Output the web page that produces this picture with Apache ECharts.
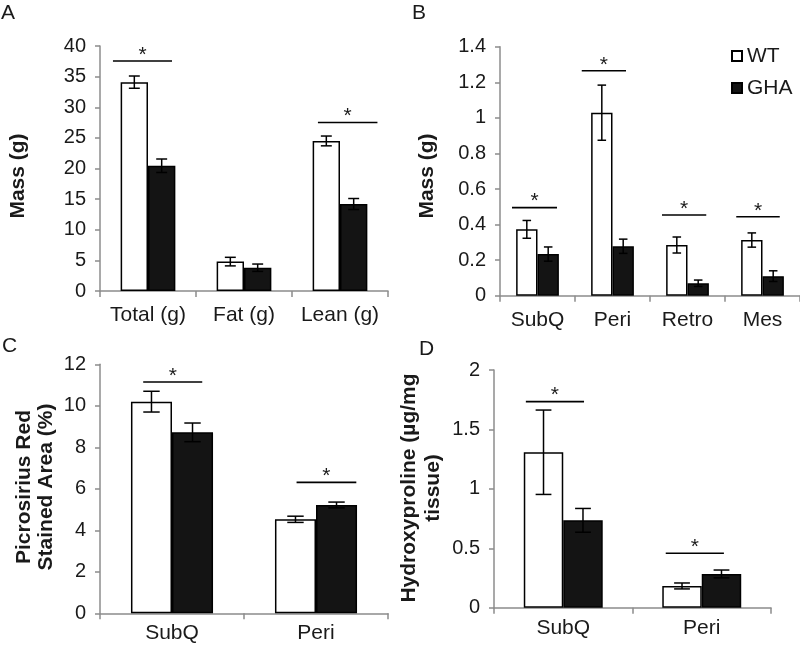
<!DOCTYPE html>
<html>
<head>
<meta charset="utf-8">
<script src="https://cdn.jsdelivr.net/npm/echarts@6/dist/echarts.min.js"></script>
<style>html,body{margin:0;padding:0;background:#fff;}#c{width:800px;height:645px;}</style>
</head>
<body>
<div id="c"></div>
<script>
// ---- Data ----
const catsA = ['Total (g)', 'Fat (g)', 'Lean (g)'];
const wtA = [34.1, 4.8, 24.5];
const wtErrA = [1.0, 0.7, 0.8];
const ghaA = [20.45, 3.8, 14.2];
const ghaErrA = [1.1, 0.6, 0.9];
const sigA = [[0, 37.55], [2, 27.5]];

const catsB = ['SubQ', 'Peri', 'Retro', 'Mes'];
const wtB = [0.373, 1.029, 0.285, 0.313];
const wtErrB = [0.05, 0.155, 0.045, 0.04];
const ghaB = [0.234, 0.278, 0.07, 0.11];
const ghaErrB = [0.04, 0.04, 0.018, 0.03];
const sigB = [[0, 0.495], [1, 1.265], [2, 0.454], [3, 0.444]];

const catsC = ['SubQ', 'Peri'];
const wtC = [10.2, 4.53];
const wtErrC = [0.5, 0.15];
const ghaC = [8.72, 5.22];
const ghaErrC = [0.45, 0.14];
const sigC = [[0, 11.15], [1, 6.31]];

const catsD = ['SubQ', 'Peri'];
const wtD = [1.308, 0.183];
const wtErrD = [0.355, 0.025];
const ghaD = [0.735, 0.284];
const ghaErrD = [0.1, 0.033];
const sigD = [[0, 1.734], [1, 0.458]];

const yTicksA = {min: 0, max: 40, interval: 5};
const yTicksB = {min: 0, max: 1.4, interval: 0.2};
const yTicksC = {min: 0, max: 12, interval: 2};
const yTicksD = {min: 0, max: 2, interval: 0.5};

// ---- Layout / style ----
const FONT = 'Arial, "Liberation Sans", Helvetica, sans-serif';
const AXIS_COLOR = '#8c8c8c';
const TEXT_COLOR = '#1a1a1a';
const BAR_FRAC = 0.285;

const sigOffA = [[-0.365, 0.25], [-0.23, 0.39]];
const sigOffB = [[-0.34, 0.26], [-0.41, 0.18], [-0.34, 0.25], [-0.35, 0.23]];
const sigOffC = [[-0.2, 0.21], [-0.135, 0.28]];
const sigOffD = [[-0.27, 0.15], [-0.26, 0.16]];
const xLabelMargins = [14, 14, 9, 10];

const grids = [
  {left: 100, right: 412, top: 46, bottom: 354, outerBoundsMode: 'none'},
  {left: 500, right: 0, top: 46.7, bottom: 349.3, outerBoundsMode: 'none'},
  {left: 100, right: 412, top: 364.3, bottom: 31.7, outerBoundsMode: 'none'},
  {left: 494, right: 29, top: 370, bottom: 37.3, outerBoundsMode: 'none'}
];

const panels = [
  {cats: catsA, wt: wtA, wtErr: wtErrA, gha: ghaA, ghaErr: ghaErrA, sig: sigA, sigOff: sigOffA, y: yTicksA},
  {cats: catsB, wt: wtB, wtErr: wtErrB, gha: ghaB, ghaErr: ghaErrB, sig: sigB, sigOff: sigOffB, y: yTicksB},
  {cats: catsC, wt: wtC, wtErr: wtErrC, gha: ghaC, ghaErr: ghaErrC, sig: sigC, sigOff: sigOffC, y: yTicksC},
  {cats: catsD, wt: wtD, wtErr: wtErrD, gha: ghaD, ghaErr: ghaErrD, sig: sigD, sigOff: sigOffD, y: yTicksD}
];

const xAxes = [], yAxes = [], series = [];

function errRenderer(side) {
  return function (params, api) {
    const cat = api.value(0), v = api.value(1), e = api.value(2);
    const band = api.size([1, 0])[0];
    const bw = band * BAR_FRAC;
    const x = api.coord([cat, v])[0] + side * bw / 2;
    const yT = api.coord([cat, v + e])[1];
    const yB = api.coord([cat, v - e])[1];
    const cap = bw * 0.2;
    const st = {stroke: '#000', lineWidth: 1.5};
    return {type: 'group', children: [
      {type: 'line', shape: {x1: x, y1: yT, x2: x, y2: yB}, style: st},
      {type: 'line', shape: {x1: x - cap, y1: yT, x2: x + cap, y2: yT}, style: st},
      {type: 'line', shape: {x1: x - cap, y1: yB, x2: x + cap, y2: yB}, style: st}
    ]};
  };
}

function sigRenderer(offs) {
  return function (params, api) {
    const cat = api.value(0), y = api.value(1);
    const band = api.size([1, 0])[0];
    const p = api.coord([cat, y]);
    const o = offs[params.dataIndex];
    const x1 = p[0] + o[0] * band, x2 = p[0] + o[1] * band;
    return {type: 'group', children: [
      {type: 'line', shape: {x1: x1, y1: p[1], x2: x2, y2: p[1]}, style: {stroke: '#000', lineWidth: 1.6}},
      {type: 'text', x: (x1 + x2) / 2, y: p[1] - 6, style: {text: '*', fill: TEXT_COLOR, font: '21px ' + FONT, align: 'center', verticalAlign: 'middle'}}
    ]};
  };
}

panels.forEach(function (pn, i) {
  xAxes.push({
    type: 'category', gridIndex: i, data: pn.cats,
    axisLine: {lineStyle: {color: AXIS_COLOR, width: 1.5}},
    axisTick: {show: true, length: 6, lineStyle: {color: AXIS_COLOR, width: 1.5}},
    axisLabel: {interval: 0, color: TEXT_COLOR, fontSize: 21, fontFamily: FONT, margin: xLabelMargins[i]},
    splitLine: {show: false}
  });
  yAxes.push({
    type: 'value', gridIndex: i, min: pn.y.min, max: pn.y.max, interval: pn.y.interval,
    axisLine: {show: true, lineStyle: {color: AXIS_COLOR, width: 1.5}},
    axisTick: {show: true, length: 5, lineStyle: {color: AXIS_COLOR, width: 1.5}},
    axisLabel: {color: TEXT_COLOR, fontSize: 20, fontFamily: FONT, margin: 14},
    splitLine: {show: false}
  });
  series.push({
    name: 'WT', type: 'bar', xAxisIndex: i, yAxisIndex: i, data: pn.wt,
    barWidth: (BAR_FRAC * 100) + '%', barGap: '0%',
    itemStyle: {color: '#ffffff', borderColor: '#000', borderWidth: 1.5}
  });
  series.push({
    name: 'GHA', type: 'bar', xAxisIndex: i, yAxisIndex: i, data: pn.gha,
    barWidth: (BAR_FRAC * 100) + '%', barGap: '0%',
    itemStyle: {color: '#141414', borderColor: '#000', borderWidth: 1.5}
  });
  series.push({
    type: 'custom', xAxisIndex: i, yAxisIndex: i, z: 5,
    renderItem: errRenderer(-1),
    data: pn.wt.map(function (v, k) { return [k, v, pn.wtErr[k]]; })
  });
  series.push({
    type: 'custom', xAxisIndex: i, yAxisIndex: i, z: 5,
    renderItem: errRenderer(1),
    data: pn.gha.map(function (v, k) { return [k, v, pn.ghaErr[k]]; })
  });
  series.push({
    type: 'custom', xAxisIndex: i, yAxisIndex: i, z: 5,
    renderItem: sigRenderer(pn.sigOff),
    data: pn.sig
  });
});

function vText(x, y, text, lh) {
  return {type: 'text', x: x, y: y, rotation: Math.PI / 2,
    style: {text: text, fill: TEXT_COLOR, font: 'bold 21px ' + FONT, align: 'center', verticalAlign: 'middle', lineHeight: lh}};
}
function letter(x, y, t) {
  return {type: 'text', x: x, y: y, style: {text: t, fill: TEXT_COLOR, font: '21px ' + FONT, align: 'left', verticalAlign: 'top'}};
}

const chart = echarts.init(document.getElementById('c'), null, {renderer: 'canvas'});
chart.setOption({
  animation: false,
  backgroundColor: '#fff',
  grid: grids,
  xAxis: xAxes,
  yAxis: yAxes,
  legend: {
    show: true, orient: 'vertical', left: 726, top: 40,
    data: ['WT', 'GHA'], selectedMode: false,
    icon: 'rect', itemWidth: 10, itemHeight: 10, itemGap: 10,
    textStyle: {fontSize: 21, fontFamily: FONT, color: TEXT_COLOR, lineHeight: 22, padding: [0, 0, 0, 0]}
  },
  graphic: [
    letter(1, 3, 'A'), letter(412, 3, 'B'), letter(2, 336, 'C'), letter(419, 339, 'D'),
    vText(18, 176, 'Mass (g)', 22),
    vText(427, 176, 'Mass (g)', 22),
    vText(35, 487, 'Picrosirius Red\nStained Area (%)', 22),
    vText(421, 488, 'Hydroxyproline (µg/mg\ntissue)', 24)
  ],
  series: series
});
</script>
</body>
</html>
